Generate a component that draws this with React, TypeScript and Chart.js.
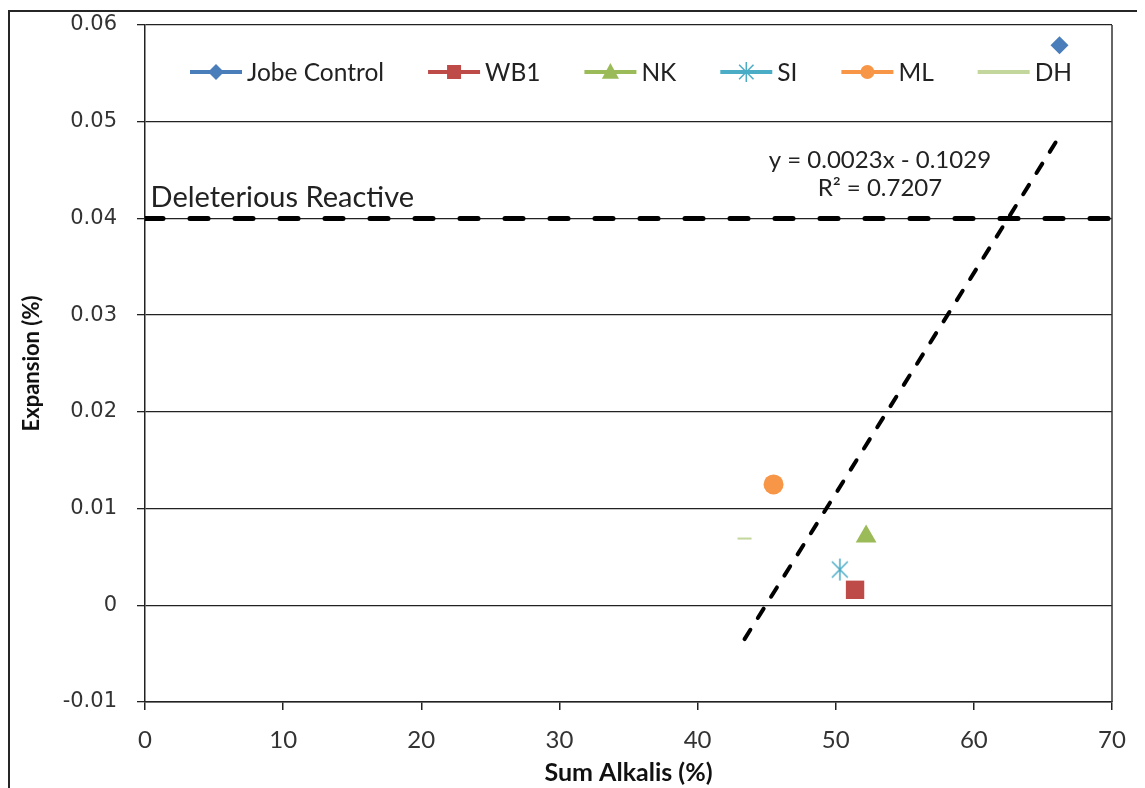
import React, { useEffect, useRef } from 'react';
import { Chart, registerables } from 'chart.js';

Chart.register(...registerables);

// ---- Data ----
const seriesNames = ['Jobe Control', 'WB1', 'NK', 'SI', 'ML', 'DH'];
const sumAlkalis = [66.2, 51.4, 52.2, 50.3, 45.5, 43.4];
const expansion = [0.0579, 0.0016, 0.0071, 0.0037, 0.0125, 0.0069];
const seriesColors = ['#4A7EBB', '#BE4B48', '#9BBB59', '#4BACC6', '#F79646', '#C3D69B'];
const markerStyles = ['rectRot', 'rect', 'triangle', 'star', 'circle', 'line'];

const trendX = [43.4, 66.2];
const trendY = [-0.0035, 0.0485];
const thresholdX = [0, 70];
const thresholdY = [0.04, 0.04];

const xTickValues = [0, 10, 20, 30, 40, 50, 60, 70];
const yTickValues = [-0.01, 0, 0.01, 0.02, 0.03, 0.04, 0.05, 0.06];

const thresholdLabel = 'Deleterious Reactive';
const equationLabel = 'y = 0.0023x - 0.1029';
const r2Label = 'R\u00B2 = 0.7207';
const xTitle = 'Sum Alkalis (%)';
const yTitle = 'Expansion (%)';

// annotation anchors (data coordinates)
const thresholdLabelPos = [0.4, 0.0422];
const equationPos = [53.2, 0.046];
const r2Pos = [53.2, 0.0431];

function makeStarCanvas(color: string, size: number) {
  const c = document.createElement('canvas');
  c.width = size;
  c.height = size;
  const g = c.getContext('2d')!;
  const m = size / 2;
  const r = size / 2 - 1;
  g.strokeStyle = color;
  g.lineWidth = 1.5;
  g.beginPath();
  g.moveTo(m, m - r);
  g.lineTo(m, m + r);
  const d = r * 0.72;
  g.moveTo(m - d, m - d);
  g.lineTo(m + d, m + d);
  g.moveTo(m + d, m - d);
  g.lineTo(m - d, m + d);
  g.stroke();
  return c;
}

function drawLegendMarker(ctx: CanvasRenderingContext2D, style: string, x: number, y: number, color: string) {
  ctx.save();
  ctx.fillStyle = color;
  ctx.strokeStyle = color;
  ctx.beginPath();
  if (style === 'rectRot') {
    const r = 8;
    ctx.moveTo(x, y - r);
    ctx.lineTo(x + r, y);
    ctx.lineTo(x, y + r);
    ctx.lineTo(x - r, y);
    ctx.closePath();
    ctx.fill();
  } else if (style === 'rect') {
    const s = 7;
    ctx.rect(x - s, y - s, 2 * s, 2 * s);
    ctx.fill();
  } else if (style === 'triangle') {
    const r = 9;
    ctx.moveTo(x, y - r);
    ctx.lineTo(x + r * 0.95, y + r * 0.75);
    ctx.lineTo(x - r * 0.95, y + r * 0.75);
    ctx.closePath();
    ctx.fill();
  } else if (style === 'star') {
    const r = 10;
    const d = r * 0.72;
    ctx.lineWidth = 1.5;
    ctx.moveTo(x, y - r);
    ctx.lineTo(x, y + r);
    ctx.moveTo(x - d, y - d);
    ctx.lineTo(x + d, y + d);
    ctx.moveTo(x + d, y - d);
    ctx.lineTo(x - d, y + d);
    ctx.stroke();
  } else if (style === 'circle') {
    ctx.arc(x, y, 7, 0, Math.PI * 2);
    ctx.fill();
  }
  ctx.restore();
}

const overlayPlugin = {
  id: 'overlay',
  afterDatasetsDraw(chart: any) {
    const { ctx, chartArea, scales } = chart;
    const xs = scales.x;
    const ys = scales.y;
    ctx.save();
    // right plot border
    ctx.strokeStyle = '#333';
    ctx.lineWidth = 1.5;
    ctx.beginPath();
    ctx.moveTo(chartArea.right, chartArea.top);
    ctx.lineTo(chartArea.right, chartArea.bottom);
    ctx.stroke();

    // annotations
    ctx.fillStyle = '#222';
    ctx.textBaseline = 'middle';
    ctx.textAlign = 'left';
    ctx.font = '29px Lato';
    ctx.fillText(thresholdLabel, xs.getPixelForValue(thresholdLabelPos[0]), ys.getPixelForValue(thresholdLabelPos[1]));
    ctx.textAlign = 'center';
    ctx.font = '24px Lato';
    ctx.fillText(equationLabel, xs.getPixelForValue(equationPos[0]), ys.getPixelForValue(equationPos[1]));
    ctx.fillText(r2Label, xs.getPixelForValue(r2Pos[0]), ys.getPixelForValue(r2Pos[1]));

    // legend inside plot
    ctx.font = '24.5px Lato';
    ctx.textAlign = 'left';
    const lineLen = 52;
    const textGap = 5;
    const startX = chartArea.left + 45;
    const endX = chartArea.right - 40;
    const ly = chartArea.top + 47;
    const widths = seriesNames.map((n) => lineLen + textGap + ctx.measureText(n).width);
    const total = widths.reduce((a, b) => a + b, 0);
    const gap = (endX - startX - total) / (seriesNames.length - 1);
    let cx = startX;
    seriesNames.forEach((name, i) => {
      ctx.strokeStyle = seriesColors[i];
      ctx.lineWidth = 4;
      ctx.beginPath();
      ctx.moveTo(cx, ly);
      ctx.lineTo(cx + lineLen, ly);
      ctx.stroke();
      drawLegendMarker(ctx, markerStyles[i], cx + lineLen / 2, ly, seriesColors[i]);
      ctx.fillStyle = '#222';
      ctx.fillText(name, cx + lineLen + textGap, ly + 1);
      cx += widths[i] + gap;
    });
    ctx.restore();
  },
};

export default function App() {
  const ref = useRef<HTMLCanvasElement | null>(null);

  useEffect(() => {
    if (!ref.current) return;
    const starImg = makeStarCanvas(seriesColors[3], 24);
    const pointDatasets = seriesNames.map((name, i) => {
      const style = markerStyles[i];
      const base: any = {
        label: name,
        data: [{ x: sumAlkalis[i], y: expansion[i] }],
        showLine: false,
        backgroundColor: seriesColors[i],
        borderColor: seriesColors[i],
        pointBorderWidth: 0,
        pointStyle: style === 'star' ? starImg : style,
        pointRadius: 10,
      };
      if (style === 'rectRot') base.pointRadius = 9;
      if (style === 'rect') base.pointRadius = 13;
      if (style === 'triangle') base.pointRadius = 12;
      if (style === 'circle') base.pointRadius = 10;
      if (style === 'line') {
        base.pointRadius = 7;
        base.pointBorderWidth = 2;
      }
      return base;
    });

    const chart = new Chart(ref.current, {
      type: 'scatter',
      data: {
        datasets: [
          {
            label: 'threshold',
            data: thresholdX.map((x, i) => ({ x, y: thresholdY[i] })),
            showLine: true,
            borderColor: '#000',
            borderWidth: 5,
            borderDash: [18, 27],
            borderCapStyle: 'round',
            pointRadius: 0,
          } as any,
          {
            label: 'trend',
            data: trendX.map((x, i) => ({ x, y: trendY[i] })),
            showLine: true,
            borderColor: '#000',
            borderWidth: 4,
            borderDash: [11, 14],
            borderCapStyle: 'round',
            pointRadius: 0,
          } as any,
          ...pointDatasets,
        ],
      },
      options: {
        animation: false,
        responsive: false,
        layout: { padding: { left: 0, right: 33, top: 13, bottom: 0 } },
        plugins: { legend: { display: false }, tooltip: { enabled: false } },
        scales: {
          x: {
            type: 'linear',
            min: 0,
            max: 70,
            afterBuildTicks: (s: any) => {
              s.ticks = xTickValues.map((v) => ({ value: v }));
            },
            afterFit: (s: any) => {
              s.height = 86;
              s.paddingLeft = 0;
              s.paddingRight = 0;
            },
            ticks: {
              font: { family: 'Lato', size: 24 },
              color: '#333',
              padding: 16,
              maxRotation: 0,
              callback: (v: any) => String(v),
            },
            grid: {
              drawOnChartArea: false,
              drawTicks: true,
              tickLength: 8,
              color: '#222',
              lineWidth: 1.5,
            },
            border: { color: '#222', width: 1.5 },
            title: {
              display: true,
              text: xTitle,
              font: { family: 'Lato', size: 25, weight: 'bold' },
              color: '#111',
              padding: { top: 0, bottom: 0 },
            },
          },
          y: {
            type: 'linear',
            min: -0.01,
            max: 0.06,
            afterBuildTicks: (s: any) => {
              s.ticks = yTickValues.map((v) => ({ value: v }));
            },
            afterFit: (s: any) => {
              s.width = 135;
              s.paddingTop = 0;
              s.paddingBottom = 0;
            },
            ticks: {
              font: { family: 'DejaVu Sans', size: 21 },
              color: '#333',
              padding: 20,
              callback: (v: any) => String(Number(Number(v).toFixed(2))),
            },
            grid: {
              color: '#222',
              lineWidth: 1.3,
              tickLength: 8,
            },
            border: { color: '#222', width: 1.5 },
            title: {
              display: true,
              text: yTitle,
              font: { family: 'Lato', size: 22, weight: 'bold' },
              color: '#111',
              padding: { top: 9, bottom: 0 },
            },
          },
        },
      },
      plugins: [overlayPlugin],
    });
    return () => chart.destroy();
  }, []);

  return (
    <div style={{ paddingTop: 2 }}>
      <style>{'html,body{overflow:hidden}'}</style>
      <div
        style={{
          width: 1137,
          height: 778,
          borderTop: '2px solid #262626',
          borderLeft: '2px solid #262626',
          boxSizing: 'border-box',
          background: '#fff',
        }}
      >
        <canvas ref={ref} width={1135} height={776} style={{ display: 'block' }} />
      </div>
    </div>
  );
}
